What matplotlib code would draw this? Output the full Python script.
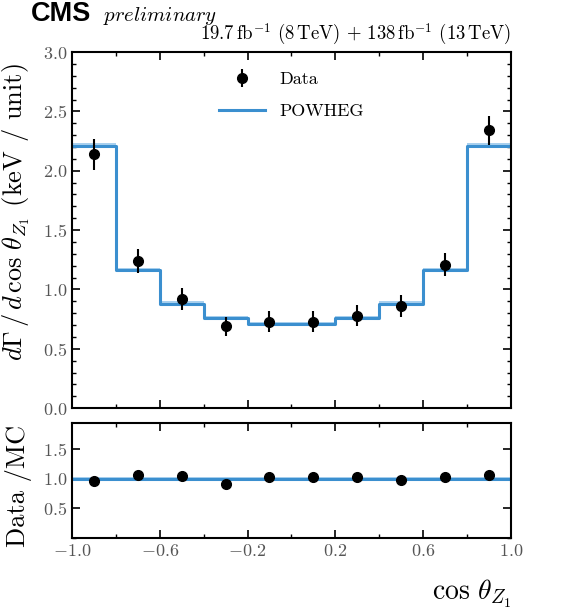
import numpy as np
import matplotlib
matplotlib.use("Agg")
import matplotlib.pyplot as plt
from matplotlib.ticker import MultipleLocator

plt.rcParams['font.family'] = 'serif'
plt.rcParams['font.serif'] = ['cmr10', 'DejaVu Serif']
plt.rcParams['mathtext.fontset'] = 'cm'
plt.rcParams['axes.formatter.use_mathtext'] = True

# bin edges in cos(theta_Z1)
edges = [-1.0, -0.8, -0.6, -0.4, -0.2, 0.0, 0.2, 0.4, 0.6, 0.8, 1.0]
mc_vals = [2.21, 1.16, 0.88, 0.76, 0.71, 0.71, 0.76, 0.88, 1.16, 2.21]
mc_unc = [0.02, 0.02, 0.02, 0.02, 0.015, 0.015, 0.02, 0.02, 0.02, 0.02]
data_vals = [2.14, 1.24, 0.92, 0.69, 0.73, 0.73, 0.78, 0.86, 1.21, 2.34]
data_err = [0.13, 0.10, 0.09, 0.08, 0.09, 0.09, 0.09, 0.09, 0.10, 0.12]
ratio_vals = [0.97, 1.07, 1.05, 0.91, 1.03, 1.03, 1.03, 0.98, 1.04, 1.06]
ratio_err = [0.04, 0.05, 0.05, 0.05, 0.05, 0.05, 0.05, 0.04, 0.04, 0.04]
xticks = [-1.0, -0.6, -0.2, 0.2, 0.6, 1.0]

edges = np.array(edges)
centers = 0.5 * (edges[1:] + edges[:-1])
mc_step = np.append(mc_vals, mc_vals[-1])
mc_hi = np.append(np.array(mc_vals) + np.array(mc_unc), mc_vals[-1] + mc_unc[-1])

blue = '#3b8fcf'
light = '#a9d0ee'

fig = plt.figure(figsize=(5.8, 6.12), dpi=100)
ax = fig.add_axes([0.124, 0.333, 0.757, 0.582])
rax = fig.add_axes([0.124, 0.121, 0.757, 0.188])

# main panel
ax.fill_between(edges, mc_step, mc_hi, step='post', color=light, lw=0)
ax.step(edges, mc_step, where='post', color=blue, lw=2.2, label='POWHEG')
ax.errorbar(centers, data_vals, yerr=data_err, fmt='o', color='black',
            ms=7, elinewidth=1.5, capsize=0, label='Data')
ax.set_xlim(-1, 1)
ax.set_ylim(0, 3.0)
ax.set_ylabel(r'$d\Gamma\,/\,d\,\cos\,\theta_{Z_1}$ (keV / unit)', fontsize=19)
ax.yaxis.set_label_coords(-0.09, 0.55)
ax.set_xticks(xticks)
ax.xaxis.set_minor_locator(MultipleLocator(0.2))
ax.yaxis.set_major_locator(MultipleLocator(0.5))
ax.yaxis.set_minor_locator(MultipleLocator(0.1))
ax.tick_params(labelbottom=False)
handles, labels = ax.get_legend_handles_labels()
ax.legend(handles[::-1], labels[::-1], loc='upper center', frameon=False,
          fontsize=13, bbox_to_anchor=(0.5, 0.99), handlelength=2.5,
          labelspacing=0.9)

fig.text(0.053, 0.965, 'CMS', fontsize=19.5, fontweight='bold',
         family='Liberation Sans', va='baseline', ha='left')
fig.text(0.178, 0.966, r'$\mathit{preliminary}$', fontsize=15,
         va='baseline', ha='left')
ax.text(1.0, 1.015, r'19.7$\,$fb$^{-1}$ (8$\,$TeV) + 138$\,$fb$^{-1}$ (13$\,$TeV)',
        transform=ax.transAxes, fontsize=13.5, va='bottom', ha='right')

# ratio panel
rax.axhspan(0.99, 1.03, color=light, lw=0)
rax.axhline(1.0, color=blue, lw=2.2)
rax.errorbar(centers, ratio_vals, yerr=ratio_err, fmt='o', color='black',
             ms=7, elinewidth=1.5, capsize=0)
rax.set_xlim(-1, 1)
rax.set_ylim(0, 1.95)
rax.set_yticks([0.5, 1.0, 1.5])
rax.yaxis.set_minor_locator(MultipleLocator(0.5))
rax.set_xticks(xticks)
rax.xaxis.set_minor_locator(MultipleLocator(0.2))
rax.set_ylabel('Data /MC', fontsize=19)
rax.yaxis.set_label_coords(-0.09, 0.45)
rax.set_xlabel(r'$\cos\,\theta_{Z_1}$', fontsize=20, loc='right', labelpad=14)

for a in (ax, rax):
    a.tick_params(which='both', direction='in', top=True, right=True,
                  labelsize=13, labelcolor='#555555')
    a.tick_params(which='major', length=6, width=1.2)
    a.tick_params(which='minor', length=3, width=1.0)
    for s in a.spines.values():
        s.set_linewidth(1.5)

fig.savefig('out.png', dpi=100)
